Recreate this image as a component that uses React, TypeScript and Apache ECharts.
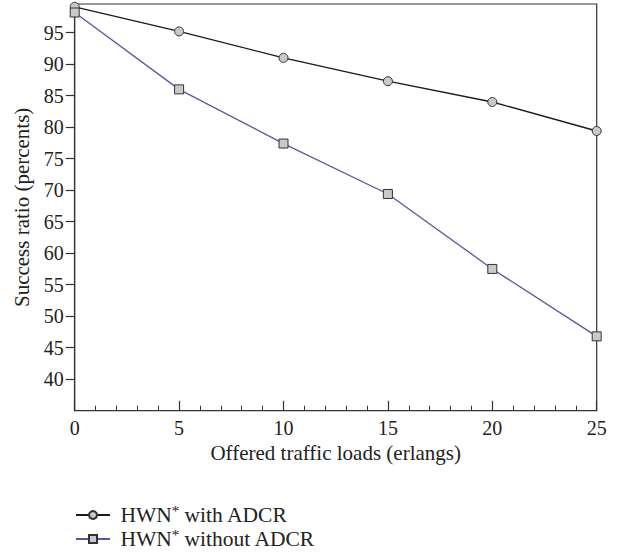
import React, { useEffect, useRef } from "react";
import * as echarts from "echarts";

const xLoads = [0, 5, 10, 15, 20, 25];
const withAdcr = [99.1, 95.2, 91.0, 87.3, 84.0, 79.4];
const withoutAdcr = [98.2, 86.0, 77.4, 69.4, 57.5, 46.8];
const yTickValues = [40, 45, 50, 55, 60, 65, 70, 75, 80, 85, 90, 95];
const seriesNames = ["HWN* with ADCR", "HWN* without ADCR"];

const FONT = "Liberation Serif";

export default function App() {
  const ref = useRef<HTMLDivElement>(null);
  useEffect(() => {
    if (!ref.current) return;
    const chart = echarts.init(ref.current, undefined, { renderer: "svg" });
    const marker = { color: "#c9c9c9", borderColor: "#333", borderWidth: 1 };
    chart.setOption({
      animation: false,
      backgroundColor: "#fff",
      textStyle: { fontFamily: FONT, color: "#222" },
      grid: {
        left: 74.7,
        right: 25.3,
        top: 4,
        bottom: 143.3,
        show: true,
        borderColor: "#333",
        borderWidth: 1.2,
        backgroundColor: "transparent",
      },
      legend: {
        orient: "vertical",
        left: 75,
        top: 503,
        height: 51,
        padding: 0,
        itemWidth: 34,
        itemHeight: 10,
        itemGap: 1,
        data: seriesNames,
        textStyle: {
          fontFamily: FONT,
          fontSize: 21.5,
          color: "#222",
          rich: {
            sup: { fontFamily: FONT, fontSize: 15, color: "#222", padding: [0, 0, 9, 0] },
          },
        },
        formatter: (n: string) => " " + n.replace("*", "{sup|*}"),
      },
      xAxis: {
        type: "value",
        min: 0,
        max: 25,
        interval: 5,
        name: "Offered traffic loads (erlangs)",
        nameLocation: "middle",
        nameGap: 28,
        nameTextStyle: { fontFamily: FONT, fontSize: 21, color: "#222" },
        axisLine: { lineStyle: { color: "#333", width: 1.2 } },
        axisTick: { inside: true, length: 10, lineStyle: { color: "#333", width: 1.2 } },
        minorTick: { show: true, splitNumber: 5, length: 5, lineStyle: { color: "#333", width: 1 } },
        axisLabel: { fontFamily: FONT, fontSize: 20, color: "#222", margin: 7 },
        splitLine: { show: false },
      },
      yAxis: {
        type: "value",
        min: 35,
        max: 99.55,
        interval: 5,
        name: "Success ratio (percents)",
        nameLocation: "middle",
        nameGap: 40,
        nameTextStyle: { fontFamily: FONT, fontSize: 21, color: "#222" },
        axisLine: { show: true, lineStyle: { color: "#333", width: 1.2 } },
        axisTick: {
          show: true,
          inside: false,
          length: 9,
          customValues: yTickValues,
          lineStyle: { color: "#333", width: 1.2 },
        },
        axisLabel: {
          fontFamily: FONT,
          fontSize: 20,
          color: "#222",
          margin: 11,
          customValues: yTickValues,
        },
        splitLine: { show: false },
      },
      series: [
        {
          name: seriesNames[0],
          type: "line",
          data: xLoads.map((x, i) => [x, withAdcr[i]]),
          symbol: "circle",
          symbolSize: 9,
          clip: false,
          lineStyle: { color: "#1a1a1a", width: 1.4 },
          itemStyle: marker,
          color: "#1a1a1a",
        },
        {
          name: seriesNames[1],
          type: "line",
          data: xLoads.map((x, i) => [x, withoutAdcr[i]]),
          symbol: "rect",
          symbolSize: 9,
          clip: false,
          lineStyle: { color: "#5a579c", width: 1.3 },
          itemStyle: marker,
          color: "#5a579c",
        },
      ],
    });
    return () => chart.dispose();
  }, []);
  return (
    <div
      ref={ref}
      style={{ position: "fixed", left: 0, top: 0, width: 622, height: 554, background: "#fff" }}
    />
  );
}
